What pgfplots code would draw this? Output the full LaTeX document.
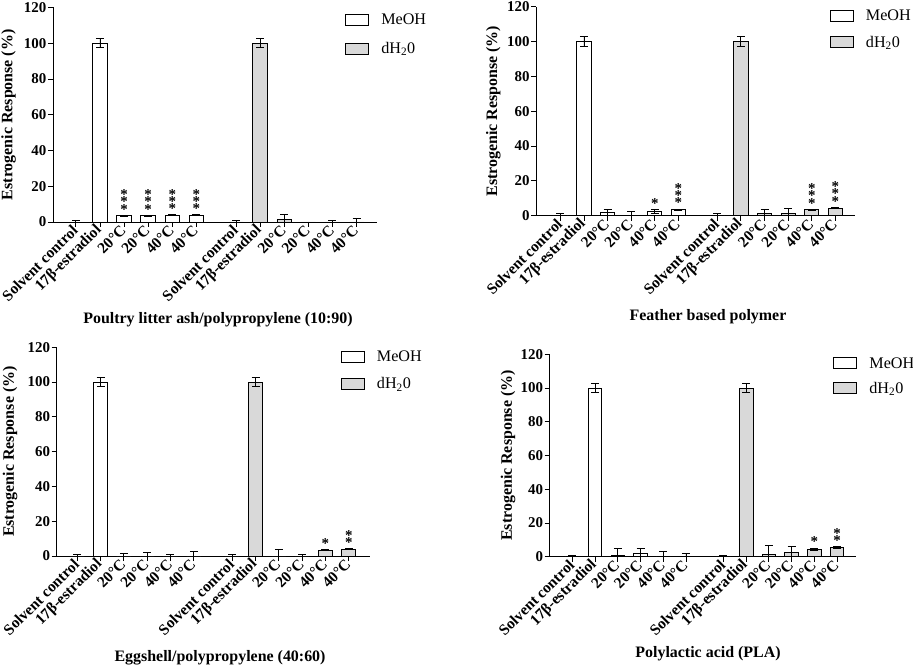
\documentclass[border=0pt]{standalone}
\usepackage{fontspec}
\setmainfont{Liberation Serif}
\usepackage{pgfplots}
\pgfplotsset{compat=1.18}
\definecolor{barg}{RGB}{217,217,217}
\newcommand{\fb}{\fontsize{15}{18}\selectfont\bfseries}
\newcommand{\fx}{\fontsize{15.5}{18}\selectfont\bfseries}
\newcommand{\fa}{\fontsize{16}{19}\selectfont\bfseries}
\newcommand{\fl}{\fontsize{16.2}{19}\selectfont}
\newcommand{\s}{\smash{*}}
\tikzset{stars/.style={anchor=south, inner sep=0pt, align=center, font=\fontsize{15}{7.2}\selectfont\bfseries, yshift=1bp}}
\pgfplotsset{
  panel/.style={
    scale only axis,
    axis lines*=left,
    ymin=0, ymax=120,
    ytick={0,20,...,120},
    xtick={0,1,2,3,4,5,6.65,7.65,8.65,9.65,10.65,11.65},
    xticklabels={Solvent control,17β-estradiol,20°C,20°C,40°C,40°C,Solvent control,17β-estradiol,20°C,20°C,40°C,40°C},
    tick align=outside, major tick length=5bp,
    tick style={black, line width=0.9bp},
    axis line style={line width=0.9bp},
    ticklabel style={font=\fb},
    /pgf/number format/assume math mode=true,
    xticklabel style={rotate=45, anchor=east, inner sep=1bp, font=\fx},
    yticklabel style={inner sep=1.5bp},
    ylabel={Estrogenic Response (\%)},
    ybar, bar width=0.6,
    legend cell align=left,
    legend style={draw=none, fill=none, inner sep=0pt, outer sep=0pt, anchor=north west,
      column sep=0pt, font=\fl, nodes={inner sep=0pt}},
  },
  ylab/.style={every axis y label/.style={at={(rel axis cs:0,0.5)}, xshift=-#1, rotate=90, anchor=center, font=\fa}},
  xlab/.style 2 args={every axis x label/.style={at={(rel axis cs:0.5,0)}, xshift=#1, yshift=-#2, anchor=center, font=\fa}},
  mybar/.style={draw=black, line width=0.9bp, bar shift=0pt,
    error bars/y dir=both, error bars/y explicit,
    error bars/error bar style={line width=0.9bp, black},
    error bars/error mark options={rotate=90, mark size=4bp, line width=0.9bp, black}},
  boxleg/.style={legend image code/.code={\draw[##1, line width=0.9bp] (0bp,-5.5bp) rectangle (23bp,5.5bp); \path (35.5bp,0bp);}},
}
\begin{document}
\begin{tikzpicture}
\useasboundingbox (0,0) rectangle (913bp,667bp);

% Panel A
\begin{axis}[panel, at={(53bp,445bp)}, anchor=south west, width=324bp, height=214.5bp,
  xmin=-0.95, xmax=12.5, ylab=44.5bp, xlab={3bp}{98bp},
  xlabel={Poultry litter ash/polypropylene (10:90)},
  legend style={at={(rel axis cs:0.901,0.972)}, row sep=16.5bp}]
\addplot[mybar, fill=white, boxleg] coordinates {
 (0,0) +- (0,1) (1,100) +- (0,2.5) (2,3.5) +- (0,0.3) (3,3.5) +- (0,0.3) (4,3.8) +- (0,0.3) (5,3.8) +- (0,0.3)};
\addplot[mybar, fill=barg, boxleg] coordinates {
 (6.65,0) +- (0,1) (7.65,100) +- (0,2.5) (8.65,1.3) +- (0,2.8) (9.65,0) +- (0,0) (10.65,0) +- (0,1) (11.65,0) +- (0,2.2)};
\legend{MeOH, dH\textsubscript{2}0}
\node[stars] at (axis cs:2,3.8) {\s\\\s\\\s};
\node[stars] at (axis cs:3,3.8) {\s\\\s\\\s};
\node[stars] at (axis cs:4,4.1) {\s\\\s\\\s};
\node[stars] at (axis cs:5,4.1) {\s\\\s\\\s};
\end{axis}

% Panel B
\begin{axis}[panel, at={(536.3bp,451.3bp)}, anchor=south west, width=318.4bp, height=209bp,
  xmin=-1.02, xmax=12.47, ylab=43bp, xlab={12.5bp}{101bp},
  xlabel={Feather based polymer},
  legend style={at={(rel axis cs:0.921,0.986)}, row sep=14bp}]
\addplot[mybar, fill=white, boxleg] coordinates {
 (0,0) +- (0,1.1) (1,100) +- (0,2.7) (2,1.7) +- (0,2.1) (3,0.3) +- (0,2.2) (4,2.3) +- (0,1) (5,3.3) +- (0,0.5)};
\addplot[mybar, fill=barg, boxleg] coordinates {
 (6.65,0) +- (0,1.1) (7.65,100) +- (0,2.7) (8.65,1.3) +- (0,2.5) (9.65,1.3) +- (0,3.1) (10.65,3.3) +- (0,0.4) (11.65,4.4) +- (0,0.4)};
\legend{MeOH, dH\textsubscript{2}0}
\node[stars] at (axis cs:4,3.3) {\s};
\node[stars] at (axis cs:5,3.8) {\s\\\s\\\s};
\node[stars] at (axis cs:10.65,3.7) {\s\\\s\\\s};
\node[stars] at (axis cs:11.65,4.8) {\s\\\s\\\s};
\end{axis}

% Panel C
\begin{axis}[panel, at={(56.7bp,111bp)}, anchor=south west, width=313.3bp, height=208.7bp,
  xmin=-0.88, xmax=12.56, ylab=46.7bp, xlab={6.7bp}{101.7bp},
  xlabel={Eggshell/polypropylene (40:60)},
  legend style={at={(rel axis cs:0.906,0.984)}, row sep=14.5bp}]
\addplot[mybar, fill=white, boxleg] coordinates {
 (0,0) +- (0,1) (1,100) +- (0,2.5) (2,0) +- (0,1.5) (3,0) +- (0,2.1) (4,0) +- (0,1) (5,0) +- (0,2.7)};
\addplot[mybar, fill=barg, boxleg] coordinates {
 (6.65,0) +- (0,1) (7.65,100) +- (0,2.5) (8.65,0) +- (0,4) (9.65,0) +- (0,1) (10.65,3.3) +- (0,0.3) (11.65,4) +- (0,0.3)};
\legend{MeOH, dH\textsubscript{2}0}
\node[stars] at (axis cs:10.65,3.6) {\s};
\node[stars] at (axis cs:11.65,4.3) {\s\\\s};
\end{axis}

% Panel D
\begin{axis}[panel, at={(549.7bp,110.3bp)}, anchor=south west, width=306.6bp, height=202.4bp,
  xmin=-1.0, xmax=12.5, ylab=41.7bp, xlab={5bp}{96.6bp},
  xlabel={Polylactic acid (PLA)},
  legend style={at={(rel axis cs:0.924,0.985)}, row sep=12.5bp}]
\addplot[mybar, fill=white, boxleg] coordinates {
 (0,0) +- (0,1) (1,100) +- (0,2.5) (2,0.6) +- (0,4.5) (3,1.8) +- (0,2.9) (4,0) +- (0,3) (5,0) +- (0,2)};
\addplot[mybar, fill=barg, boxleg] coordinates {
 (6.65,0) +- (0,1) (7.65,100) +- (0,2.5) (8.65,1.4) +- (0,5.1) (9.65,2.6) +- (0,3.7) (10.65,4.5) +- (0,0.6) (11.65,5.3) +- (0,0.6)};
\legend{MeOH, dH\textsubscript{2}0}
\node[stars] at (axis cs:10.65,5.1) {\s};
\node[stars] at (axis cs:11.65,5.9) {\s\\\s};
\end{axis}
\end{tikzpicture}
\end{document}
